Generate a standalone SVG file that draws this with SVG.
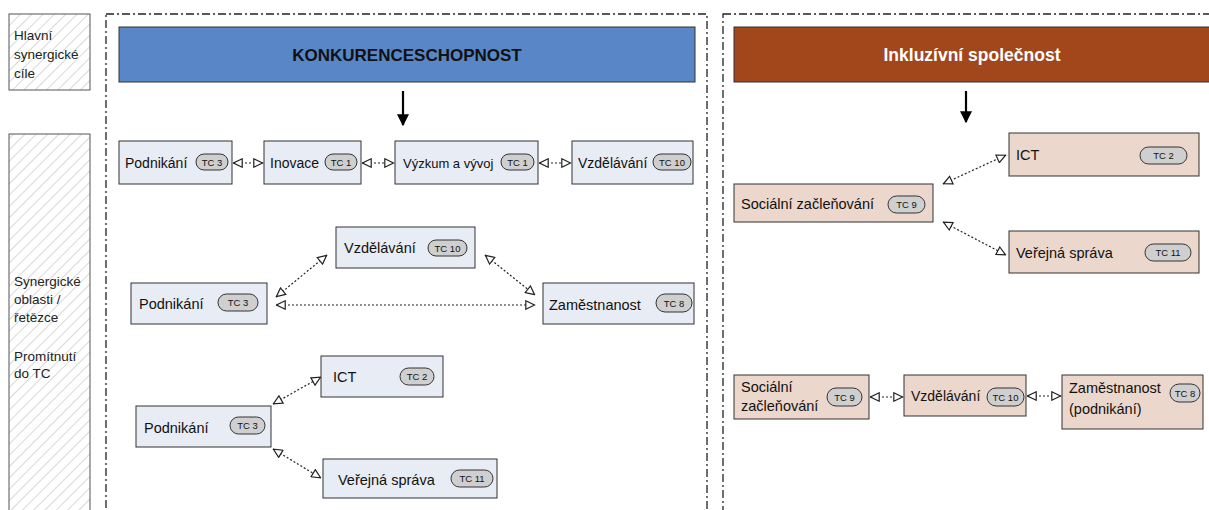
<svg xmlns="http://www.w3.org/2000/svg" width="1209" height="510" viewBox="0 0 1209 510">
<style>
text{font-family:"Liberation Sans","DejaVu Sans",sans-serif;fill:#111}
.side{fill:url(#hatch);stroke:#555;stroke-width:1}
.sidet{font-size:13.5px;fill:#222}
.frame{fill:none;stroke:#222;stroke-width:1.3;stroke-dasharray:8 3 2 3}
.nb{fill:#e8ecf4;stroke:#333;stroke-width:1}
.nr{fill:#ecd7cc;stroke:#333;stroke-width:1}
.lbl{font-size:14.5px}
.lbl.sm{font-size:13px}
.lbl.md{font-size:14px}
.pill{fill:#cfcfcf;stroke:#333;stroke-width:1}
.pt{font-size:9.5px;text-anchor:middle}
.con{fill:none;stroke:#222;stroke-width:1.2;stroke-dasharray:2 2;marker-start:url(#tri);marker-end:url(#tri)}
.down{stroke:#000;stroke-width:2.2;marker-end:url(#ah)}
</style>
<defs>
<pattern id="hatch" patternUnits="userSpaceOnUse" width="8" height="8" patternTransform="rotate(45)">
<rect width="8" height="8" fill="#fff"/>
<line x1="0" y1="0" x2="0" y2="8" stroke="#c4c4c4" stroke-width="1.3"/>
</pattern>
<marker id="tri" viewBox="0 0 10 10" refX="10" refY="5" markerWidth="11" markerHeight="10" markerUnits="userSpaceOnUse" orient="auto-start-reverse">
<path d="M0.8,0.8 L9.5,5 L0.8,9.2 z" fill="#fff" stroke="#222" stroke-width="1.2"/>
</marker>
<marker id="ah" viewBox="0 0 10 10" refX="9" refY="5" markerWidth="12" markerHeight="12" markerUnits="userSpaceOnUse" orient="auto">
<path d="M0,0 L10,5 L0,10 z" fill="#000"/>
</marker>
</defs>
<rect width="1209" height="510" fill="#fff"/>

<g id="side-goals">
<rect class="side" x="9" y="14" width="81" height="76"/>
<text class="sidet" x="14" y="40">Hlavní</text>
<text class="sidet" x="14" y="59">synergické</text>
<text class="sidet" x="14" y="78">cíle</text>
</g>
<g id="side-areas">
<rect class="side" x="9" y="134" width="81" height="390"/>
<text class="sidet" x="14" y="286">Synergické</text>
<text class="sidet" x="14" y="304">oblasti /</text>
<text class="sidet" x="14" y="322">řetězce</text>
<text class="sidet" x="14" y="361">Promítnutí</text>
<text class="sidet" x="14" y="378">do TC</text>
</g>

<g id="frame-left"><rect class="frame" x="106" y="14" width="601" height="510"/></g>
<g id="frame-right"><rect class="frame" x="723" y="14" width="500" height="510"/></g>

<g id="goal-konkurence">
<rect x="119" y="27" width="576" height="55" fill="#5886c6" stroke="#333" stroke-width="1"/>
<text x="407" y="61" font-size="17" font-weight="bold" text-anchor="middle">KONKURENCESCHOPNOST</text>
</g>
<g id="goal-inkluze">
<rect x="734" y="27" width="490" height="55" fill="#a2461c" stroke="#333" stroke-width="1"/>
<text x="972" y="61" font-size="17.5" font-weight="bold" text-anchor="middle" style="fill:#fff">Inkluzívní společnost</text>
</g>

<!-- Row 1 -->
<g id="r1-podnikani"><rect class="nb" x="119" y="141" width="113" height="43"/><text class="lbl md" x="125" y="168">Podnikání</text><rect class="pill" x="196" y="154" width="32" height="16" rx="8"/><text class="pt" x="212" y="165.5">TC 3</text></g>
<g id="r1-inovace"><rect class="nb" x="264" y="141" width="97" height="43"/><text class="lbl md" x="270" y="168">Inovace</text><rect class="pill" x="325" y="154" width="32" height="16" rx="8"/><text class="pt" x="341" y="165.5">TC 1</text></g>
<g id="r1-vyzkum"><rect class="nb" x="395" y="141" width="143" height="43"/><text class="lbl sm" x="403" y="168">Výzkum a vývoj</text><rect class="pill" x="501" y="154" width="33" height="16" rx="8"/><text class="pt" x="517.5" y="165.5">TC 1</text></g>
<g id="r1-vzdelavani"><rect class="nb" x="572" y="141" width="121" height="43"/><text class="lbl md" x="578" y="168">Vzdělávání</text><rect class="pill" x="653" y="154" width="38" height="16" rx="8"/><text class="pt" x="672" y="165.5">TC 10</text></g>

<!-- Row 2 -->
<g id="r2-vzdelavani"><rect class="nb" x="336" y="227" width="139" height="41"/><text class="lbl" x="344" y="253">Vzdělávání</text><rect class="pill" x="428" y="240" width="39" height="16" rx="8"/><text class="pt" x="447.5" y="251.5">TC 10</text></g>
<g id="r2-podnikani"><rect class="nb" x="131" y="283" width="136" height="41"/><text class="lbl" x="139" y="309">Podnikání</text><rect class="pill" x="218" y="294" width="40" height="17" rx="8.5"/><text class="pt" x="238" y="306">TC 3</text></g>
<g id="r2-zamestnanost"><rect class="nb" x="543" y="283" width="151" height="41"/><text class="lbl" x="549" y="310">Zaměstnanost</text><rect class="pill" x="656" y="294" width="36" height="18" rx="9"/><text class="pt" x="674" y="306.5">TC 8</text></g>

<!-- Row 3 -->
<g id="r3-ict"><rect class="nb" x="321" y="356" width="122" height="41"/><text class="lbl" x="333" y="382">ICT</text><rect class="pill" x="400" y="368" width="34" height="17" rx="8.5"/><text class="pt" x="417" y="380">TC 2</text></g>
<g id="r3-podnikani"><rect class="nb" x="136" y="406" width="135" height="41"/><text class="lbl" x="144" y="433">Podnikání</text><rect class="pill" x="230" y="417" width="35" height="17" rx="8.5"/><text class="pt" x="247.5" y="429">TC 3</text></g>
<g id="r3-verejna"><rect class="nb" x="323" y="459" width="174" height="39"/><text class="lbl" x="338" y="485">Veřejná správa</text><rect class="pill" x="451" y="470" width="42" height="17" rx="8.5"/><text class="pt" x="472" y="482">TC 11</text></g>

<!-- Right upper -->
<g id="rr-ict"><rect class="nr" x="1009" y="133" width="190" height="43"/><text class="lbl" x="1016" y="160">ICT</text><rect class="pill" x="1140" y="147" width="47" height="17" rx="8.5"/><text class="pt" x="1163.5" y="159">TC 2</text></g>
<g id="rr-socialni"><rect class="nr" x="734" y="184" width="199" height="38"/><text class="lbl" x="741" y="209">Sociální začleňování</text><rect class="pill" x="888" y="196" width="37" height="17" rx="8.5"/><text class="pt" x="906.5" y="208">TC 9</text></g>
<g id="rr-verejna"><rect class="nr" x="1009" y="231" width="190" height="42"/><text class="lbl" x="1016" y="258">Veřejná správa</text><rect class="pill" x="1145" y="244" width="46" height="17" rx="8.5"/><text class="pt" x="1168" y="256">TC 11</text></g>

<!-- Right lower -->
<g id="rl-socialni"><rect class="nr" x="734" y="375" width="135" height="44"/><text class="lbl" x="741" y="392">Sociální</text><text class="lbl" x="741" y="411">začleňování</text><rect class="pill" x="827" y="388" width="35" height="18" rx="9"/><text class="pt" x="844.5" y="400.5">TC 9</text></g>
<g id="rl-vzdelavani"><rect class="nr" x="904" y="375" width="122" height="41"/><text class="lbl md" x="911" y="401">Vzdělávání</text><rect class="pill" x="987" y="388" width="37" height="18" rx="9"/><text class="pt" x="1005.5" y="400.5">TC 10</text></g>
<g id="rl-zamestnanost"><rect class="nr" x="1062" y="375" width="141" height="54"/><text class="lbl" x="1069" y="393">Zaměstnanost</text><text class="lbl" x="1069" y="414">(podnikání)</text><rect class="pill" x="1170" y="384" width="30" height="18" rx="9"/><text class="pt" x="1185" y="396.5">TC 8</text></g>

<g id="connectors">
<line class="down" x1="403" y1="91" x2="403" y2="125"/>
<line class="down" x1="966" y1="91" x2="966" y2="122"/>
<line class="con" x1="233" y1="163" x2="263" y2="163"/>
<line class="con" x1="362" y1="163" x2="394" y2="163"/>
<line class="con" x1="539" y1="163" x2="571" y2="163"/>
<line class="con" x1="276" y1="297" x2="327" y2="255"/>
<line class="con" x1="485" y1="255" x2="535" y2="295"/>
<line class="con" x1="276" y1="305" x2="535" y2="305"/>
<line class="con" x1="273" y1="404" x2="321" y2="377"/>
<line class="con" x1="273" y1="449" x2="321" y2="478"/>
<line class="con" x1="943" y1="184" x2="1006" y2="155"/>
<line class="con" x1="943" y1="222" x2="1006" y2="255"/>
<line class="con" x1="870" y1="397" x2="903" y2="397"/>
<line class="con" x1="1027" y1="396" x2="1061" y2="396"/>
</g>
</svg>
